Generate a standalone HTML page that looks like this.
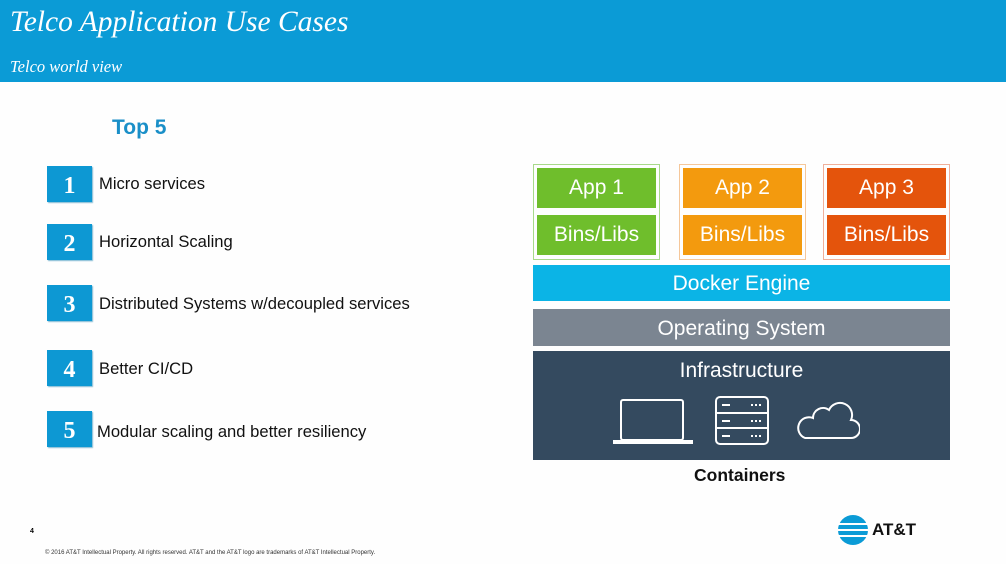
<!DOCTYPE html>
<html><head><style>
body{margin:0;width:1006px;height:564px;background:#fefefe;position:relative;overflow:hidden;font-family:"Liberation Sans",sans-serif}
.a{position:absolute}
.hdr{left:0;top:0;width:1006px;height:82px;background:#0b9bd6}
.t1{left:10px;top:6px;font:italic 29.5px "Liberation Serif",serif;color:#fff}
.t2{left:10px;top:57px;font:italic 16.5px "Liberation Serif",serif;color:#fff}
.n{left:47px;width:45px;height:36px;background:#0d98d3;color:#fff;font:bold 24px "Liberation Serif",serif;text-align:center;line-height:40px;box-shadow:1px 1px 1px #7fb9d3}
.l{left:99px;font-size:16.6px;color:#111}
.c{height:94px;width:125px;top:164px;border:1px solid}
.bx{color:#fff;font-size:21px;text-align:center;width:119px;height:40px;line-height:40px}
.bar{left:533px;width:417px;color:#fff;text-align:center;font-size:21px}
</style></head><body>
<div class="a hdr"></div>
<div class="a t1">Telco Application Use Cases</div>
<div class="a t2">Telco world view</div>
<div class="a" style="left:112px;top:116px;font-weight:bold;font-size:21px;color:#1a8fc8">Top 5</div>

<div class="a n" style="top:166px">1</div><div class="a l" style="top:174px">Micro services</div>
<div class="a n" style="top:224px">2</div><div class="a l" style="top:232px">Horizontal Scaling</div>
<div class="a n" style="top:285px">3</div><div class="a l" style="top:294px">Distributed Systems w/decoupled services</div>
<div class="a n" style="top:350px">4</div><div class="a l" style="top:359px">Better CI/CD</div>
<div class="a n" style="top:411px">5</div><div class="a l" style="left:97px;top:422px">Modular scaling and better resiliency</div>

<div class="a c" style="left:533px;border-color:#a8d98a"></div>
<div class="a c" style="left:679px;border-color:#f5c79a"></div>
<div class="a c" style="left:823px;border-color:#f0b09a"></div>
<div class="a bx" style="left:537px;top:168px;background:#6fbe2c">App 1</div>
<div class="a bx" style="left:537px;top:215px;background:#6fbe2c">Bins/Libs</div>
<div class="a bx" style="left:683px;top:168px;background:#f39a0e">App 2</div>
<div class="a bx" style="left:683px;top:215px;background:#f39a0e">Bins/Libs</div>
<div class="a bx" style="left:827px;top:168px;background:#e4540c">App 3</div>
<div class="a bx" style="left:827px;top:215px;background:#e4540c">Bins/Libs</div>

<div class="a bar" style="top:265px;height:36px;line-height:38px;background:#0bb4e6">Docker Engine</div>
<div class="a bar" style="top:309px;height:37px;line-height:39px;background:#7b8591">Operating System</div>
<div class="a bar" style="top:351px;height:109px;background:#344a5f"><div style="margin-top:8px">Infrastructure</div></div>
<svg class="a" style="left:610px;top:394px" width="250" height="52" fill="none" stroke="#fff" stroke-width="2">
<rect x="11" y="6" width="62" height="40" rx="2"/><path d="M4 47h78v2H4z"/>
<rect x="106" y="3" width="52" height="47" rx="4"/><path d="M106 19h52M106 34h52M112 11h8M112 27h8M112 42h8"/>
<path d="M141 11h10M141 27h10M141 42h10" stroke-dasharray="2 2"/>
<path d="M195 44h46a9 9 0 0 0 0-18a12 12 0 0 0-22-10a10 10 0 0 0-16 8a10 10 0 0 0-8 20z"/>
</svg>
<div class="a" style="left:694px;top:465px;font-weight:bold;font-size:17.5px;color:#111">Containers</div>

<div class="a" style="left:30px;top:528px;font-size:7px;font-weight:bold">4</div>
<div class="a" style="left:45px;top:550px;font-size:6px;color:#333;white-space:nowrap">© 2016 AT&amp;T Intellectual Property. All rights reserved. AT&amp;T and the AT&amp;T logo are trademarks of AT&amp;T Intellectual Property.</div>
<svg class="a" style="left:837px;top:514px" width="32" height="32"><circle cx="16" cy="16" r="15" fill="#0b9bd6"/><path d="M1 10h30M1 16h30M1 22h30" stroke="#fff" stroke-width="2"/></svg>
<div class="a" style="left:872px;top:520px;font-weight:bold;font-size:17px;color:#111">AT&amp;T</div>
</body></html>
